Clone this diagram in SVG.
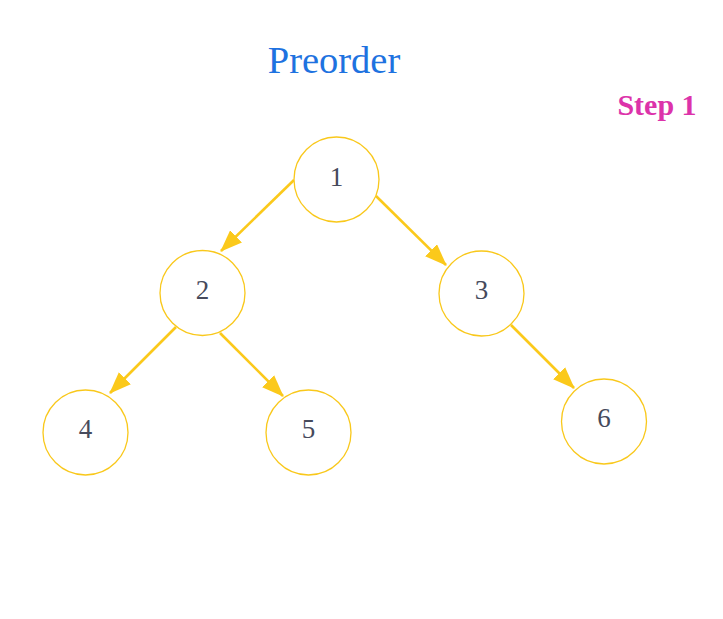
<svg xmlns="http://www.w3.org/2000/svg" width="723" height="619" viewBox="0 0 723 619">
<style>
.node circle{fill:#fff;stroke:#f9c81b;stroke-width:1.3}
.node text{font-family:"Liberation Serif",serif;font-size:27px;fill:#464a5c;text-anchor:middle;dominant-baseline:central}
.edge{stroke:#fbc91b;stroke-width:2.6;fill:none;marker-end:url(#ah)}
</style>
<defs>
<marker id="ah" viewBox="0 0 22 17" refX="21" refY="8.5" markerWidth="22" markerHeight="17" markerUnits="userSpaceOnUse" orient="auto">
<path d="M0,0 L22,8.5 L0,17 z" fill="#fbc91b"/>
</marker>
</defs>
<rect width="723" height="619" fill="#fff"/>
<text x="334" y="60" font-family="'Liberation Serif',serif" font-size="38.5" fill="#1e72e0" text-anchor="middle" dominant-baseline="central">Preorder</text>
<text x="657" y="104" font-family="'Liberation Serif',serif" font-size="30" font-weight="bold" fill="#dc33aa" text-anchor="middle" dominant-baseline="central">Step 1</text>
<g id="connectors">
<line class="edge" x1="294" y1="180" x2="221" y2="251"/>
<line class="edge" x1="376" y1="196" x2="446" y2="265"/>
<line class="edge" x1="176" y1="327" x2="110" y2="393"/>
<line class="edge" x1="220" y1="333" x2="283" y2="396"/>
<line class="edge" x1="511" y1="325" x2="574" y2="388"/>
</g>
<g id="n1" class="node"><circle cx="336.5" cy="179.5" r="42.5"/><text x="336.5" y="177">1</text></g>
<g id="n2" class="node"><circle cx="202.5" cy="293" r="42.5"/><text x="202.5" y="290">2</text></g>
<g id="n3" class="node"><circle cx="481.5" cy="293.5" r="42.5"/><text x="481.5" y="290">3</text></g>
<g id="n4" class="node"><circle cx="85.5" cy="432.5" r="42.5"/><text x="85.5" y="429">4</text></g>
<g id="n5" class="node"><circle cx="308.5" cy="432.5" r="42.5"/><text x="308.5" y="429">5</text></g>
<g id="n6" class="node"><circle cx="604" cy="421.5" r="42.5"/><text x="604" y="418">6</text></g>
</svg>
